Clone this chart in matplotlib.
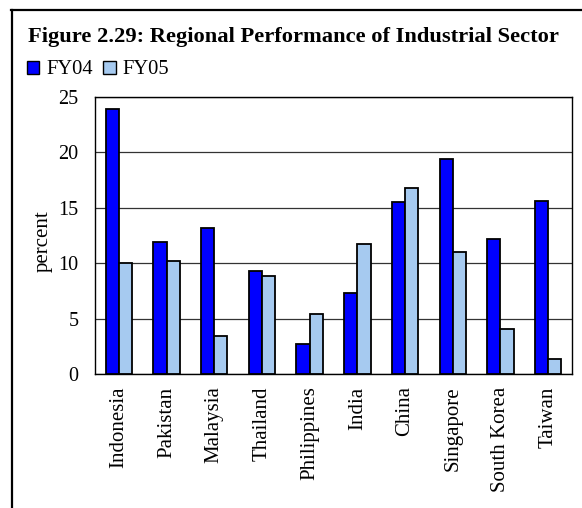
import matplotlib
matplotlib.use("Agg")
import matplotlib.pyplot as plt
import numpy as np
from matplotlib.lines import Line2D
from matplotlib.patches import Patch

countries = ["Indonesia", "Pakistan", "Malaysia", "Thailand", "Philippines",
             "India", "China", "Singapore", "South Korea", "Taiwan"]
fy04 = [23.9, 11.9, 13.2, 9.3, 2.7, 7.3, 15.5, 19.4, 12.2, 15.6]
fy05 = [10.05, 10.2, 3.4, 8.8, 5.4, 11.7, 16.8, 11.0, 4.1, 1.35]
series_names = ["FY04", "FY05"]
yticks = [0, 5, 10, 15, 20, 25]

plt.rcParams['font.family'] = ['Liberation Serif', 'DejaVu Serif']

W, H = 582, 508
fig = plt.figure(figsize=(W / 100, H / 100), dpi=100)
fig.patch.set_facecolor('white')

ax = fig.add_axes([95 / W, 1 - 374 / H, (572 - 95) / W, (374 - 97) / H])

c04 = '#0000FF'
c05 = '#A6CAF0'
x = np.arange(len(countries))
bw = 0.277
ax.bar(x - bw / 2, fy04, width=bw, color=c04, edgecolor='black', linewidth=1.3, zorder=3)
ax.bar(x + bw / 2, fy05, width=bw, color=c05, edgecolor='black', linewidth=1.3, zorder=3)

ax.set_xlim(-0.5, len(countries) - 0.5)
ax.set_ylim(0, 25)
ax.set_yticks(yticks)
ax.set_yticklabels([str(t) for t in yticks], fontsize=14.5)
ax.yaxis.grid(True, color='#333333', linewidth=0.9, zorder=0)
ax.set_xticks(x)
ax.set_xticklabels(countries, rotation=90, fontsize=15)
ax.tick_params(axis='x', length=0, pad=9)
ax.tick_params(axis='y', length=0, pad=12)
for s in ax.spines.values():
    s.set_linewidth(1.0)
    s.set_color('black')
ax.set_ylabel('percent', fontsize=15)
ax.yaxis.set_label_coords(-0.109, 0.48)
ax.yaxis.label.set_va('center')

fig.text(28 / W, 1 - 42 / H, "Figure 2.29: Regional Performance of Industrial Sector",
         fontsize=16.2, fontweight='bold', ha='left', va='baseline')

handles = [Patch(facecolor=c04, edgecolor='black', linewidth=1.0),
           Patch(facecolor=c05, edgecolor='black', linewidth=1.0)]
fig.legend(handles, series_names, loc='center left', bbox_to_anchor=(27 / W, 1 - 70 / H),
           ncol=2, frameon=False, fontsize=14.8, handlelength=0.6, handleheight=0.6,
           handletextpad=0.35, columnspacing=0.5, borderpad=0, borderaxespad=0)

fig.add_artist(Line2D([12 / W, 12 / W], [0, 1 - 10 / H], transform=fig.transFigure,
                      color='black', linewidth=1.6))
fig.add_artist(Line2D([11 / W, 1], [1 - 10 / H, 1 - 10 / H], transform=fig.transFigure,
                      color='black', linewidth=1.6))

fig.savefig('out.png', dpi=100, facecolor='white')
